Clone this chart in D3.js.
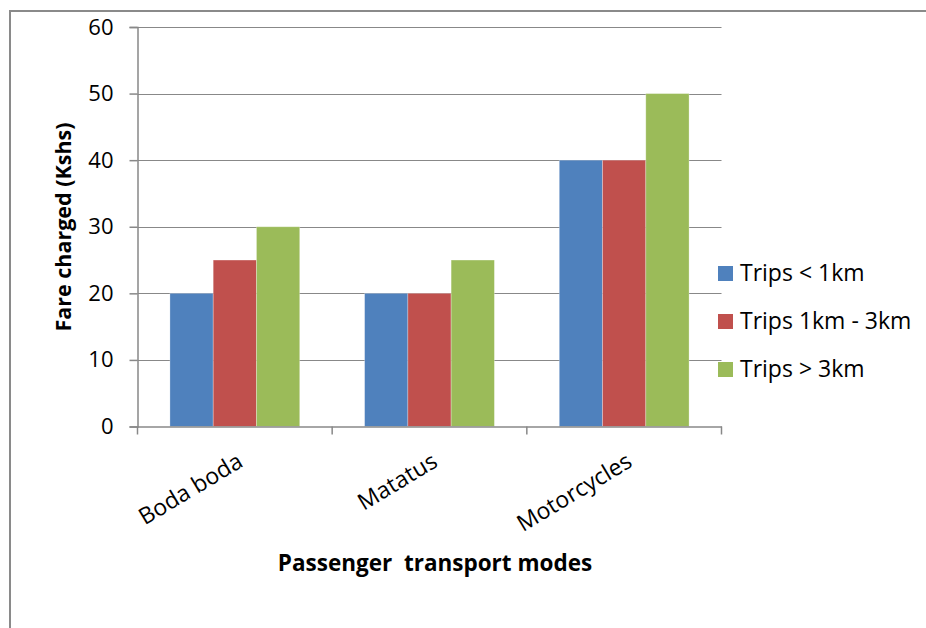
<!DOCTYPE html>
<html>
<head>
<meta charset="utf-8">
<script src="https://cdn.jsdelivr.net/npm/d3@7"></script>
<style>
  html, body { margin: 0; padding: 0; background: #fff; }
  svg { display: block; }
  text { font-family: "Open Sans", Lato, sans-serif; fill: #000; white-space: pre; }
</style>
</head>
<body>
<svg id="chart" width="926" height="628"></svg>
<script>
const categories = ["Boda boda", "Matatus", "Motorcycles"];
const seriesNames = ["Trips < 1km", "Trips 1km - 3km", "Trips > 3km"];
const tripsUnder1km = [20, 20, 40];
const trips1to3km = [25, 20, 40];
const tripsOver3km = [30, 25, 50];
const yTicks = [0, 10, 20, 30, 40, 50, 60];
const colors = ["#4F81BD", "#C0504D", "#9BBB59"];
const yTitle = "Fare charged (Kshs)";
const xTitle = "Passenger  transport modes";

const seriesValues = [tripsUnder1km, trips1to3km, tripsOver3km];
const data = categories.map((c, i) => ({
  category: c,
  values: seriesNames.map((s, j) => ({ series: s, idx: j, value: seriesValues[j][i] }))
}));

const svg = d3.select("#chart");

// outer border
svg.append("rect")
  .attr("x", 10).attr("y", 11)
  .attr("width", 1000).attr("height", 1000)
  .attr("fill", "none").attr("stroke", "#8a8a8a").attr("stroke-width", 2);

const plot = { left: 137.5, right: 721.5, top: 27, bottom: 426.5 };

const x = d3.scaleBand().domain(categories).range([plot.left, plot.right]).padding(0);
const bw = x.bandwidth();
const xInner = d3.scaleBand().domain(seriesNames)
  .range([bw * 0.75 / 4.5, bw - bw * 0.75 / 4.5]).padding(0);
const y = d3.scaleLinear().domain([0, 60]).range([plot.bottom, plot.top]);

// gridlines
svg.append("g").selectAll("line").data(yTicks.filter(d => d > 0)).join("line")
  .attr("x1", plot.left).attr("x2", plot.right)
  .attr("y1", d => Math.round(y(d)) + 0.5).attr("y2", d => Math.round(y(d)) + 0.5)
  .attr("stroke", "#888").attr("stroke-width", 1.2);

// bars
const groups = svg.append("g").selectAll("g").data(data).join("g")
  .attr("transform", d => `translate(${x(d.category)},0)`);
groups.selectAll("rect").data(d => d.values).join("rect")
  .attr("x", d => xInner(d.series))
  .attr("width", xInner.bandwidth())
  .attr("y", d => y(d.value))
  .attr("height", d => y(0) - y(d.value))
  .attr("fill", d => colors[d.idx])
  .attr("stroke", "rgba(255,255,255,0.35)").attr("stroke-width", 0.8);

// y axis
const yAxis = d3.axisLeft(y).tickValues(yTicks).tickSize(8).tickPadding(16);
const yg = svg.append("g").attr("transform", `translate(${plot.left},0)`).call(yAxis);
yg.select(".domain").attr("stroke", "#888").attr("stroke-width", 1.5);
yg.selectAll(".tick line").attr("stroke", "#888").attr("stroke-width", 1.5);
yg.selectAll(".tick text")
  .style("font-family", "'Open Sans', sans-serif").style("font-size", "22px").attr("fill", "#000");

// x axis
const xAxis = d3.axisBottom(x).tickSize(0).tickFormat(() => "");
const xg = svg.append("g").attr("transform", `translate(0,${plot.bottom})`).call(xAxis);
xg.select(".domain").attr("stroke", "#888").attr("stroke-width", 1.5);
xg.selectAll(".tick").remove();
// category boundary ticks
const bounds = categories.map(c => x(c)).concat([x(categories[categories.length - 1]) + bw]);
xg.selectAll("line.bt").data(bounds).join("line").attr("class", "bt")
  .attr("x1", d => d).attr("x2", d => d).attr("y1", 0).attr("y2", 8)
  .attr("stroke", "#888").attr("stroke-width", 1.5);

// category labels rotated
svg.append("g").selectAll("text").data(categories).join("text")
  .attr("transform", d => `translate(${x(d) + bw / 2 + 1},${plot.bottom + 25}) rotate(-31)`)
  .attr("text-anchor", "end")
  .attr("dy", "0.72em")
  .style("font-size", "23px")
  .text(d => d);

// axis titles
svg.append("text")
  .attr("x", 435).attr("y", 571)
  .attr("text-anchor", "middle")
  .style("font-size", "22.5px").style("font-weight", "bold")
  .text(xTitle);

svg.append("text")
  .attr("transform", `translate(71,227) rotate(-90)`)
  .attr("text-anchor", "middle")
  .style("font-size", "21.5px").style("font-weight", "bold")
  .text(yTitle);

// legend
const legend = svg.append("g").selectAll("g").data(seriesNames).join("g")
  .attr("transform", (d, i) => `translate(718,${273 + i * 48})`);
legend.append("rect")
  .attr("x", 0).attr("y", -7).attr("width", 15).attr("height", 15)
  .attr("fill", (d, i) => colors[i]);
legend.append("text")
  .attr("x", 22).attr("y", 0).attr("dy", "0.36em")
  .style("font-size", "23px")
  .text(d => d);
</script>
</body>
</html>
